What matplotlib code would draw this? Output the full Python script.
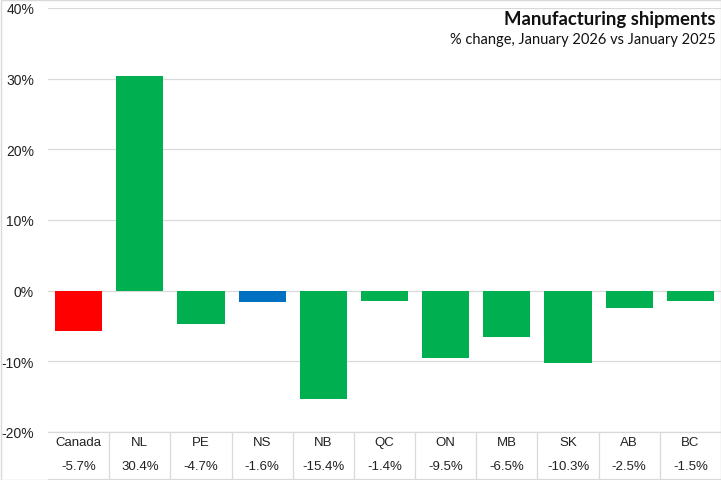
import matplotlib
matplotlib.use("Agg")
import matplotlib.pyplot as plt
from matplotlib.ticker import FuncFormatter

regions = ["Canada", "NL", "PE", "NS", "NB", "QC", "ON", "MB", "SK", "AB", "BC"]
changes = [-5.7, 30.4, -4.7, -1.6, -15.4, -1.4, -9.5, -6.5, -10.3, -2.5, -1.5]
bar_colors = ["#FF0000", "#00B050", "#00B050", "#0070C0", "#00B050", "#00B050",
              "#00B050", "#00B050", "#00B050", "#00B050", "#00B050"]

W, H = 721, 481
fig = plt.figure(figsize=(W / 100, H / 100), dpi=100)
ax = fig.add_axes([48 / W, (H - 433) / H, (W - 48) / W, (433 - 9) / H])

x = list(range(len(regions)))
ax.bar(x, changes, width=0.77, color=bar_colors, zorder=3)

ax.set_xlim(-0.5, len(regions) - 0.5)
ax.set_ylim(-20, 40)
ax.set_yticks(range(-20, 41, 10))
ax.yaxis.set_major_formatter(FuncFormatter(lambda v, p: f"{v:.0f}%"))
ax.tick_params(axis="y", length=0, pad=10, labelsize=10, labelcolor="#222222")
ax.set_xticks([])
for lab in ax.get_yticklabels():
    lab.set_family("Liberation Sans")
ax.grid(axis="y", color="#d9d9d9", linewidth=0.9, zorder=0)
for s in ax.spines.values():
    s.set_visible(False)

# data table under the plot
trans = ax.get_xaxis_transform()
line_kw = dict(color="#d9d9d9", linewidth=0.9, transform=trans, clip_on=False)
ax.plot([-0.5, len(regions) - 0.5], [0, 0], **line_kw)
y_lab = -(443 - 433) / 424
y_val = -(467 - 433) / 424
y_bot = -(480 - 433) / 424
for i in range(1, len(regions)):
    xs = i - 0.5
    ax.plot([xs, xs], [0, y_bot], **line_kw)
ax.plot([-0.5, len(regions) - 0.5], [y_bot, y_bot], **line_kw)
for i, (r, c) in enumerate(zip(regions, changes)):
    ax.text(i, y_lab, r, transform=trans, ha="center", va="center",
            fontsize=9.5, family="Liberation Sans", color="#222222")
    ax.text(i, y_val, f"{c:.1f}%", transform=trans, ha="center", va="center",
            fontsize=9.5, family="Liberation Sans", color="#222222")

fig.text(716 / W, 1 - 20 / H, "Manufacturing shipments", ha="right", va="center",
         fontsize=13.3, fontweight="bold", family="Lato", color="#111111")
fig.text(716 / W, 1 - 40 / H, "% change, January 2026 vs January 2025", ha="right",
         va="center", fontsize=10.5, family="Lato", color="#111111")

# chart border
fig.patches.append(plt.Rectangle((0.5 / W, 0.5 / H), 1 - 1 / W, 1 - 1 / H,
                                 transform=fig.transFigure, fill=False,
                                 edgecolor="#d9d9d9", linewidth=1))

fig.savefig("out.png", dpi=100)
